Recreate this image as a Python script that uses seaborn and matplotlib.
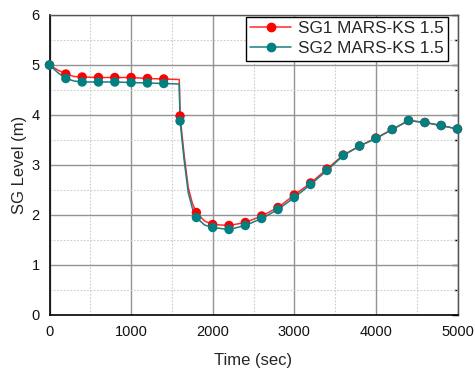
import matplotlib
matplotlib.use("Agg")
import matplotlib.pyplot as plt
import seaborn as sns
import pandas as pd
from matplotlib.lines import Line2D
from matplotlib.ticker import MultipleLocator

# Marker samples (every 200 s)
t_mark = [0, 200, 400, 600, 800, 1000, 1200, 1400, 1600, 1800, 2000, 2200, 2400,
          2600, 2800, 3000, 3200, 3400, 3600, 3800, 4000, 4200, 4400, 4600, 4800, 5000]
sg1_mark = [5.00, 4.82, 4.76, 4.75, 4.75, 4.75, 4.73, 4.72, 3.98, 2.05, 1.81, 1.79, 1.85,
            1.98, 2.15, 2.40, 2.64, 2.92, 3.20, 3.38, 3.54, 3.71, 3.89, 3.85, 3.79, 3.72]
sg2_mark = [5.00, 4.73, 4.66, 4.66, 4.66, 4.65, 4.64, 4.63, 3.88, 1.95, 1.75, 1.71, 1.79,
            1.93, 2.11, 2.35, 2.61, 2.89, 3.19, 3.38, 3.53, 3.71, 3.89, 3.85, 3.79, 3.72]

# Continuous traces (including the steep drop)
t_line = [0, 100, 200, 300, 400, 600, 800, 1000, 1200, 1400, 1590, 1600, 1650, 1700, 1750,
          1800, 1900, 2000, 2200, 2400, 2600, 2800, 3000, 3200, 3400, 3600, 3800, 4000,
          4200, 4400, 4600, 4800, 5000]
sg1_line = [5.00, 4.90, 4.82, 4.77, 4.76, 4.75, 4.75, 4.75, 4.73, 4.72, 4.71, 3.98, 3.20, 2.55,
            2.24, 2.05, 1.88, 1.81, 1.79, 1.85, 1.98, 2.15, 2.40, 2.64, 2.92, 3.20, 3.38, 3.54,
            3.71, 3.89, 3.85, 3.79, 3.72]
sg2_line = [5.00, 4.85, 4.73, 4.68, 4.66, 4.66, 4.66, 4.65, 4.64, 4.63, 4.62, 3.88, 3.10, 2.45,
            2.14, 1.95, 1.80, 1.75, 1.71, 1.79, 1.93, 2.11, 2.35, 2.61, 2.89, 3.19, 3.38, 3.53,
            3.71, 3.89, 3.85, 3.79, 3.72]

labels = ["SG1 MARS-KS 1.5", "SG2 MARS-KS 1.5"]
line_colors = ["#ff2a2a", "#1b7f7f"]
mark_colors = ["#ff0000", "#008080"]

sns.set_style("white")
plt.rcParams["font.family"] = ["Liberation Sans", "DejaVu Sans"]

fig = plt.figure(figsize=(4.75, 3.69), dpi=100)
ax = fig.add_axes([49.5 / 475, 1 - 315 / 369, 408 / 475, 300 / 369])

df_line = pd.DataFrame({"t": t_line, "sg1": sg1_line, "sg2": sg2_line})
df_mark = pd.DataFrame({"t": t_mark, "sg1": sg1_mark, "sg2": sg2_mark})

for col, lc, mc in zip(["sg1", "sg2"], line_colors, mark_colors):
    sns.lineplot(data=df_line, x="t", y=col, ax=ax, color=lc, linewidth=1.1,
                 legend=False, zorder=3)
    sns.scatterplot(data=df_mark, x="t", y=col, ax=ax, color=mc, s=46,
                    edgecolor="none", legend=False, zorder=4, clip_on=False)

ax.set_xlim(0, 5000)
ax.set_ylim(0, 6)
ax.xaxis.set_major_locator(MultipleLocator(1000))
ax.xaxis.set_minor_locator(MultipleLocator(500))
ax.yaxis.set_major_locator(MultipleLocator(1))
ax.yaxis.set_minor_locator(MultipleLocator(0.5))

ax.grid(which="major", color="#939393", linewidth=1.0, linestyle="-", zorder=0)
ax.grid(which="minor", color="#cccccc", linewidth=0.8, linestyle=(0, (1.5, 1.5)), zorder=0)
ax.set_axisbelow(True)

for side in ["left", "bottom"]:
    ax.spines[side].set_color("black")
    ax.spines[side].set_linewidth(1.2)
for side in ["top", "right"]:
    ax.spines[side].set_color("#555555")
    ax.spines[side].set_linewidth(1.0)

ax.tick_params(which="both", direction="out", length=4, width=1, color="black",
               labelsize=10.5, pad=3, labelcolor="#111111")
ax.tick_params(which="minor", length=3)
# right-side ticks point inward
ax2 = ax.secondary_yaxis("right")
ax2.yaxis.set_major_locator(MultipleLocator(1))
ax2.yaxis.set_minor_locator(MultipleLocator(0.5))
ax2.tick_params(which="both", direction="in", length=4, width=1, color="black",
                labelright=False)
ax2.tick_params(which="minor", length=3)
ax2.spines["right"].set_color("#333333")

ax.set_xlabel("Time (sec)", fontsize=12, labelpad=10)
ax.set_ylabel("SG Level (m)", fontsize=12, labelpad=3)

handles = [Line2D([0], [0], color=lc, marker="o", markerfacecolor=mc, markeredgecolor=mc,
                  markersize=6, linewidth=1.1) for lc, mc in zip(line_colors, mark_colors)]
leg = ax.legend(handles, labels, loc="upper right", fontsize=12.3, frameon=True,
                fancybox=False, edgecolor="black", framealpha=1, borderpad=0.25,
                handlelength=2.4, handletextpad=0.4, labelspacing=0.3,
                bbox_to_anchor=((448 - 49.5) / 408, (315 - 17) / 300), borderaxespad=0)
leg.get_frame().set_linewidth(1.0)

fig.savefig("out.png", dpi=100)
